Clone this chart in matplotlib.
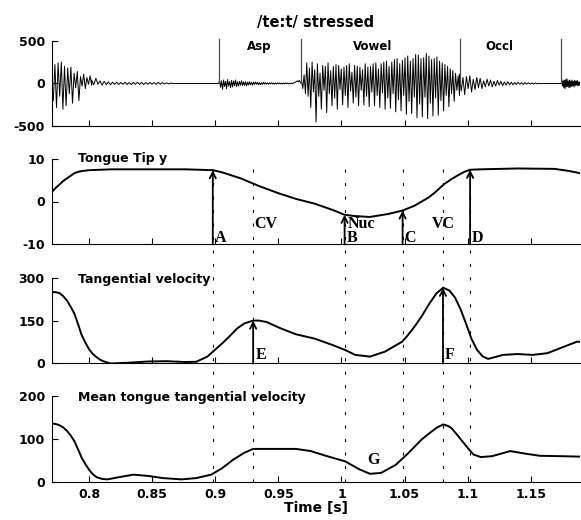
import numpy as np
import matplotlib.pyplot as plt
from matplotlib.lines import Line2D
from matplotlib import transforms

plt.rcParams['font.family'] = 'DejaVu Sans'
plt.rcParams['font.weight'] = 'bold'
plt.rcParams['lines.scale_dashes'] = False
plt.rcParams['axes.unicode_minus'] = False

t_lim = (0.7703, 1.189)
xticks = [0.8, 0.85, 0.9, 0.95, 1.0, 1.05, 1.1, 1.15]
xtick_labels = ['0.8', '0.85', '0.9', '0.95', '1', '1.05', '1.1', '1.15']

# --- audio waveform, pieces of evenly spaced samples
ring_span = (0.7703, 0.8020)
ring_vals = [0, -200, 220, -280, 240, -150, 250, -300, 200, -260, 180, -120, 190, -230,
             120, -50, 140, -200, 80, -30, 110, -60, 70, -10, 90, -20]
ripple_span = (0.8020, 0.8663)
ripple_vals = [40, -15, 60, -10, 30, -20, 25, -12, 18, -15, 15, -10, 14, -12, 12, -10, 14,
               -12, 10, -12, 12, -10, 14, -10, 12, -12, 10, -10, 12, -8, 10, -10, 12, -8,
               10, -6, 8, -5, 4, 0]
asp_span = (0.9026, 0.9683)
asp_vals = [0, 35, -45, 30, -70, 40, -35, 25, -60, 45, -30, 20, -50, 35, -40, 30, -25, 40,
            -35, 20, -30, 25, -20, 30, -25, 18, -22, 20, -28, 15, -18, 22, -15, 12, -20, 15,
            -12, 18, -10, 12, -15, 10, -12, 8, -10, 12, -8, 10, -8, 6, -10, 8, -6, 8, -5, 6,
            -8, 5, -6, 8, -4, 6, -5, 4, -6, 5, -4, 6, -3, 5, -4, 3, -5, 4, -3, 5, 10, 15, 25,
            30, 20, 35, 10, 0]
vowel_span = (0.9683, 1.0936)
vowel_vals = [40, -60, 100, -120, 240, -150, 180, -280, 250, -100, 160, -450,
              230, -150, 120, -300, 210, -80, 200, -340, 240, -120, 150, -260,
              200, -170, 220, -300, 210, -70, 170, -250, 190, -140, 210, -280,
              230, -90, 130, -230, 210, -160, 200, -260, 190, -80, 160, -250,
              230, -150, 190, -270, 200, -100, 230, -260, 240, -140, 170, -280,
              230, -110, 250, -300, 260, -170, 200, -290, 250, -120, 280, -330,
              290, -190, 230, -320, 270, -140, 300, -360, 320, -210, 260, -350,
              290, -160, 340, -400, 330, -240, 290, -390, 300, -160, 350, -410,
              320, -230, 280, -380, 290, -170, 310, -370, 260, -200, 240, -320,
              220, -140, 200, -270, 170, -120, 150, -210, 120, -80, 90, -140]
occl_span = (1.0936, 1.1742)
occl_vals = [110, -90, 70, -130, 80, -60, 90, -100, 50, -70, 70, -50, 60, -60, 30, -40,
             50, -30, 40, -40, 25, -30, 35, -20, 25, -25, 18, -20, 20, -15, 15, -15, 12,
             -12, 14, -10, 10, -12, 10, -8, 8, -8, 6, -6, 5, -4, 3, -2, 0, 0, 0, 0, 0, 0,
             0, 0, 0, 0, 0, 0]
burst_span = (1.1742, 1.189)
burst_vals = [0, 20, -30, 40, -50, 35, -60, 45, -40, 55, -35, 30, -50, 40, -45, 30, -35, 40,
              -30, 25, -40, 35, -25, 30, -20, 35, -30, 20, -25, 15]

seg_edges = [0.9026, 0.9683, 1.0936, 1.1742]
seg_names = ['Asp', 'Vowel', 'Occl']
seg_label_t = [0.935, 1.025, 1.1255]

# --- tongue tip y
tt_t = [0.7703, 0.7736, 0.7766, 0.7795, 0.7824, 0.7854, 0.7883, 0.7912, 0.7941, 0.800,
        0.8176, 0.8469, 0.8762, 0.898, 0.9054, 0.9201, 0.9347, 0.9494, 0.964, 0.9787,
        0.9933, 1.0025, 1.0109, 1.0226, 1.0373, 1.0485, 1.0578, 1.0695, 1.0753, 1.0812,
        1.0871, 1.0929, 1.0973, 1.1020, 1.1105, 1.1398, 1.1691, 1.1808, 1.189]
tt_y = [2.2, 3.2, 4.0, 4.8, 5.4, 6.0, 6.6, 6.9, 7.1, 7.3, 7.5, 7.5, 7.5, 7.3, 6.8, 5.4, 3.6,
        2.0, 0.6, -0.5, -2.0, -3.1, -3.4, -3.6, -2.9, -2.1, -1.0, 1.0, 2.4, 4.0, 5.2, 6.2,
        6.9, 7.4, 7.5, 7.7, 7.6, 7.1, 6.6]

# --- tangential velocity
tv_t = [0.7703, 0.7736, 0.7766, 0.7795, 0.7824, 0.7854, 0.7883, 0.7912, 0.7941, 0.7971,
        0.8, 0.8029, 0.8059, 0.8088, 0.8117, 0.8147, 0.8176, 0.8322, 0.8469, 0.8615,
        0.8762, 0.8849, 0.8937, 0.9054, 0.9113, 0.9172, 0.9230, 0.9300, 0.9347, 0.9406,
        0.9523, 0.964, 0.9787, 0.9933, 1.003, 1.0109, 1.0226, 1.0343, 1.0481, 1.0519,
        1.0578, 1.0636, 1.0695, 1.0753, 1.0806, 1.0856, 1.090, 1.0944, 1.0988, 1.1032,
        1.1076, 1.1119, 1.1163, 1.1281, 1.1398, 1.1515, 1.1632, 1.1749, 1.1866, 1.189]
tv_y = [250, 249, 246, 235, 220, 198, 174, 137, 99, 72, 49, 33, 22, 13, 7, 3, 0, 3, 7, 8,
        5, 6, 24, 70, 95, 122, 140, 150, 150, 145, 122, 102, 87, 64, 47, 30, 24, 41, 76,
        95, 128, 165, 208, 245, 265, 255, 231, 190, 139, 85, 47, 25, 16, 30, 33, 30, 36,
        56, 76, 76]

# --- mean tongue tangential velocity
mv_t = [0.7703, 0.7736, 0.7766, 0.7795, 0.7824, 0.7854, 0.7883, 0.7912, 0.7941, 0.7971,
        0.8, 0.8029, 0.8059, 0.8103, 0.8146, 0.8234, 0.8351, 0.8469, 0.8586, 0.8732,
        0.8849, 0.8967, 0.9054, 0.9142, 0.923, 0.930, 0.9406, 0.964, 0.9757, 0.9875,
        1.003, 1.0138, 1.0226, 1.0314, 1.0431, 1.0519, 1.0636, 1.0695, 1.0753, 1.0806,
        1.0841, 1.0871, 1.0914, 1.0958, 1.1002, 1.1046, 1.1105, 1.1193, 1.1339, 1.1456,
        1.1573, 1.1749, 1.189]
mv_y = [135, 134, 131, 126, 118, 107, 94, 75, 55, 40, 27, 17, 10, 6, 5, 10, 16, 13, 8, 5,
        8, 16, 31, 51, 67, 76, 76, 76, 71, 60, 47, 29, 18, 20, 39, 63, 98, 112, 125, 133,
        130, 125, 110, 94, 78, 63, 57, 59, 71, 65, 60, 59, 58]

# --- event markers
event_t = [0.898, 0.930, 1.0025, 1.0485, 1.0805, 1.102]
tt_arrow_t = [0.898, 1.0025, 1.0485, 1.102]
tt_arrow_lbl = ['A', 'B', 'C', 'D']
tt_phase_t = [0.930, 1.0025, 1.0805]
tt_phase_lbl = ['CV', 'Nuc', 'VC']
tv_arrow_t = [0.930, 1.0805]
tv_arrow_lbl = ['E', 'F']
g_t, g_y = 1.0255, 49

# build waveform
pieces = [(ring_span, ring_vals), (ripple_span, ripple_vals), (asp_span, asp_vals),
          (vowel_span, vowel_vals), (occl_span, occl_vals), (burst_span, burst_vals)]
wave_t, wave_v = [], []
for (a, b), vals in pieces:
    wave_t.extend(np.linspace(a, b, len(vals)))
    wave_v.extend(vals)

serif = 'Liberation Serif'
lbl_size = 11.5

fig = plt.figure(figsize=(5.81, 5.2), dpi=100)
rects = [[0.089, 0.757, 0.909, 0.165], [0.089, 0.530, 0.909, 0.165],
         [0.089, 0.301, 0.909, 0.165], [0.089, 0.074, 0.909, 0.165]]
axes = [fig.add_axes(r) for r in rects]

for ax in axes:
    ax.set_xlim(*t_lim)
    ax.set_xticks(xticks)
    ax.spines['top'].set_visible(False)
    ax.spines['right'].set_visible(False)
    ax.spines['left'].set_linewidth(0.8)
    ax.spines['bottom'].set_linewidth(0.8)
    ax.tick_params(direction='in', length=4, width=0.8, labelsize=9, pad=5)
    ax.patch.set_alpha(0)

ax1, ax2, ax3, ax4 = axes
for ax in axes[:3]:
    ax.tick_params(labelbottom=False)
ax4.set_xticklabels(xtick_labels)
ax4.set_xlabel('Time [s]', fontsize=10, fontweight='bold', labelpad=0)

# panel 1 - waveform
ax1.plot(wave_t, wave_v, color='k', lw=0.7)
ax1.set_ylim(-500, 500)
ax1.set_yticks([-500, 0, 500])
for t in seg_edges:
    ax1.plot([t, t], [0, 520], color='0.3', lw=0.9, clip_on=False)
for t, s in zip(seg_label_t, seg_names):
    ax1.text(t, 430, s, ha='center', va='center', fontsize=8.5, fontweight='bold')
ax1.set_title('/te:t/ stressed', fontsize=10.5, fontweight='bold', pad=10)

# panel 2 - tongue tip y
ax2.plot(tt_t, tt_y, color='k', lw=1.4)
ax2.set_ylim(-10, 10)
ax2.set_yticks([-10, 0, 10])
ax2.text(0.7912, 10, 'Tongue Tip y', ha='left', va='center', fontsize=9, fontweight='bold')
for t, s in zip(tt_arrow_t, tt_arrow_lbl):
    y = np.interp(t, tt_t, tt_y)
    ax2.annotate('', xy=(t, y), xytext=(t, -10),
                 arrowprops=dict(arrowstyle='->', lw=1.3, color='k', shrinkA=0, shrinkB=0,
                                 mutation_scale=11))
    ax2.annotate(s, xy=(t, -10), xytext=(1.5, 1.5), textcoords='offset points',
                 ha='left', va='baseline', fontsize=lbl_size, fontweight='bold', family=serif)
for t, s in zip(tt_phase_t, tt_phase_lbl):
    ha, dx = 'left', 0.5
    if s == 'Nuc':
        dx = 2.5
    if s == 'VC':
        ha, dx = 'center', 0
    ax2.annotate(s, xy=(t, -6.2), xytext=(dx, 0), textcoords='offset points',
                 ha=ha, va='baseline', fontsize=lbl_size, fontweight='bold', family=serif)

# panel 3 - tangential velocity
ax3.plot(tv_t, tv_y, color='k', lw=1.4)
ax3.set_ylim(0, 300)
ax3.set_yticks([0, 150, 300])
ax3.text(0.7912, 294, 'Tangential velocity', ha='left', va='center', fontsize=9,
         fontweight='bold')
for t, s in zip(tv_arrow_t, tv_arrow_lbl):
    y = np.interp(t, tv_t, tv_y)
    ax3.annotate('', xy=(t, y), xytext=(t, 0),
                 arrowprops=dict(arrowstyle='->', lw=1.3, color='k', shrinkA=0, shrinkB=0,
                                 mutation_scale=11))
    ax3.annotate(s, xy=(t, 0), xytext=(1.5, 3), textcoords='offset points',
                 ha='left', va='baseline', fontsize=lbl_size, fontweight='bold', family=serif)

# panel 4 - mean tangential velocity
ax4.plot(mv_t, mv_y, color='k', lw=1.4)
ax4.set_ylim(0, 200)
ax4.set_yticks([0, 100, 200])
ax4.text(0.7912, 196, 'Mean tongue tangential velocity', ha='left', va='center',
         fontsize=9, fontweight='bold')
ax4.text(g_t, g_y, 'G', ha='center', va='center', fontsize=lbl_size, fontweight='bold',
         family=serif)

# dotted event lines across the lower three panels
trans = transforms.blended_transform_factory(ax4.transData, fig.transFigure)
for t in event_t:
    fig.add_artist(Line2D([t, t], [0.074, 0.695], transform=trans, color='k', lw=0.8,
                          linestyle=(0, (2.2, 7.5))))

fig.savefig('out.png', dpi=100)
